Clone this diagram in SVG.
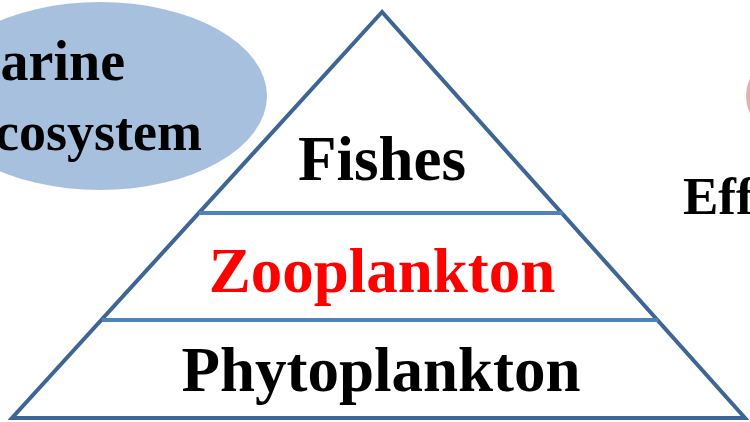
<svg xmlns="http://www.w3.org/2000/svg" width="750" height="422" viewBox="0 0 750 422">
<style>
.t{font-family:"Liberation Serif","Times New Roman",serif;font-weight:bold;}
.lvl{font-size:63px;text-anchor:middle;}
.div{stroke:#4f81bd;stroke-width:4;fill:none;}
</style>
<rect width="750" height="422" fill="#ffffff"/>
<g id="marine">
<ellipse cx="100" cy="96" rx="167" ry="94" fill="#a7c0de"/>
<text class="t" x="125" y="80" font-size="56" text-anchor="end">Marine</text>
<text class="t" x="202" y="150" font-size="54" text-anchor="end">ecosystem</text>
</g>
<g id="effects">
<circle cx="786" cy="96" r="40" fill="#e2b0b0"/>
<text class="t" x="683" y="214" font-size="53">Eff</text>
</g>
<g id="pyramid">
<polygon points="382,12 12,418 745,418" fill="#ffffff" stroke="#3d6595" stroke-width="4" stroke-linejoin="miter"/>
</g>
<g id="connectors">
<line class="div" x1="199" y1="213" x2="563" y2="213"/>
<line class="div" x1="102" y1="320" x2="658" y2="320"/>
</g>
<g id="fishes"><text class="t lvl" x="382" y="180" fill="#000000">Fishes</text></g>
<g id="zooplankton"><text class="t lvl" x="382" y="292" fill="#ff0000">Zooplankton</text></g>
<g id="phytoplankton"><text class="t lvl" x="381" y="391" fill="#000000">Phytoplankton</text></g>
</svg>
